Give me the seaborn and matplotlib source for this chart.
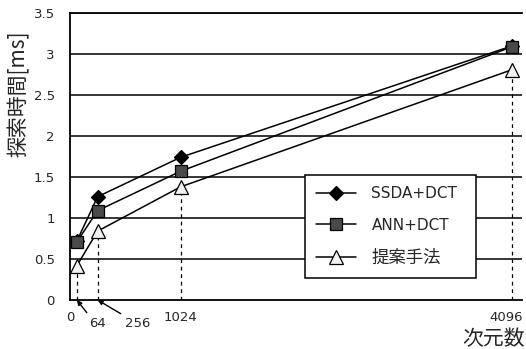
import pandas as pd
import matplotlib
matplotlib.use("Agg")
import matplotlib.pyplot as plt
import matplotlib.transforms as mtransforms
import seaborn as sns

# -----------------------------
# data
# -----------------------------
dims = [64, 256, 1024, 4096]
ssda_dct = [0.72, 1.26, 1.74, 3.10]
ann_dct = [0.71, 1.09, 1.57, 3.09]
proposed = [0.42, 0.84, 1.38, 2.81]
series_names = ["SSDA+DCT", "ANN+DCT", "提案手法"]

df = pd.DataFrame({
    "次元数": dims * 3,
    "時間": ssda_dct + ann_dct + proposed,
    "手法": [n for n in series_names for _ in dims],
})

sns.set_style("white")
plt.rcParams["font.family"] = ["Noto Sans CJK JP", "DejaVu Sans"]
latin = ["DejaVu Sans", "Noto Sans CJK JP"]

fig = plt.figure(figsize=(5.26, 3.49), dpi=100)
ax = fig.add_axes([70 / 526, 1 - 300 / 349, 452 / 526, 287 / 349])

# horizontal grid
for y in [0.5, 1, 1.5, 2, 2.5, 3, 3.5]:
    ax.axhline(y, color="black", lw=1.1, zorder=1)

# dashed drop lines
ax.vlines(dims, 0, proposed, colors="black", linestyles=(0, (3, 3)), lw=0.9, zorder=1)

styles = {
    "SSDA+DCT": dict(marker="D", markersize=7.5, markerfacecolor="black", markeredgecolor="black"),
    "ANN+DCT": dict(marker="s", markersize=8.5, markerfacecolor="#4a4a4a", markeredgecolor="black"),
    "提案手法": dict(marker="^", markersize=10, markerfacecolor="#f2f2f2", markeredgecolor="black"),
}
for name in series_names:
    sub = df[df["手法"] == name]
    sns.lineplot(data=sub, x="次元数", y="時間", ax=ax, color="black", lw=1.1,
                 label=name, zorder=3, markeredgewidth=0.9, **styles[name])

ax.set_xlim(0, 4185)
ax.set_ylim(0, 3.5)
ax.set_yticks([0, 0.5, 1, 1.5, 2, 2.5, 3, 3.5])
ax.set_yticklabels(["0", "0.5", "1", "1.5", "2", "2.5", "3", "3.5"])
ax.set_xticks([0, 1024, 4096])
ax.set_xticklabels(["0", "1024", "4096"])
ax.tick_params(axis="both", length=0, labelsize=9.5)
ax.tick_params(axis="x", pad=8)
ax.tick_params(axis="y", pad=11)
for lab in ax.get_xticklabels() + ax.get_yticklabels():
    lab.set_family(latin)
# nudge the last x label inward a little
last = ax.get_xticklabels()[-1]
last.set_transform(last.get_transform() + mtransforms.ScaledTranslation(-6 / 100, 0, fig.dpi_scale_trans))

for s in ["left", "bottom", "top"]:
    ax.spines[s].set_color("black")
    ax.spines[s].set_linewidth(1.3)
ax.spines["right"].set_visible(False)

# labels for the crowded ticks, with arrows
for val, dx in [(64, 15), (256, 29)]:
    ax.annotate(str(val), xy=(val, 0), xytext=(dx, -17), textcoords="offset points",
                ha="center", va="center", fontsize=9.5, family=latin,
                arrowprops=dict(arrowstyle="-|>", color="black", lw=1.0, mutation_scale=7,
                                relpos=(0.05, 1.0), shrinkA=1, shrinkB=0))

ax.set_ylabel("探索時間[ms]", fontsize=15)
ax.yaxis.set_label_coords(-0.088, 0.72)
ax.set_xlabel("次元数", fontsize=15, va="top")
ax.xaxis.set_label_coords(0.938, -0.098)

leg = ax.legend(loc="upper left",
                bbox_to_anchor=((305 - 70) / 452, (300 - 175) / 287 - 0.01, 171 / 452, 0.01),
                mode="expand", frameon=True, fancybox=False,
                prop={"family": latin, "size": 11},
                handlelength=2.6, borderpad=0.75, labelspacing=1.05, handletextpad=1.0,
                borderaxespad=0)
leg.get_texts()[2].set_fontsize(12.5)
leg.get_frame().set_edgecolor("black")
leg.get_frame().set_linewidth(1.1)
leg.get_frame().set_alpha(1)

fig.savefig("out.png", dpi=100)
